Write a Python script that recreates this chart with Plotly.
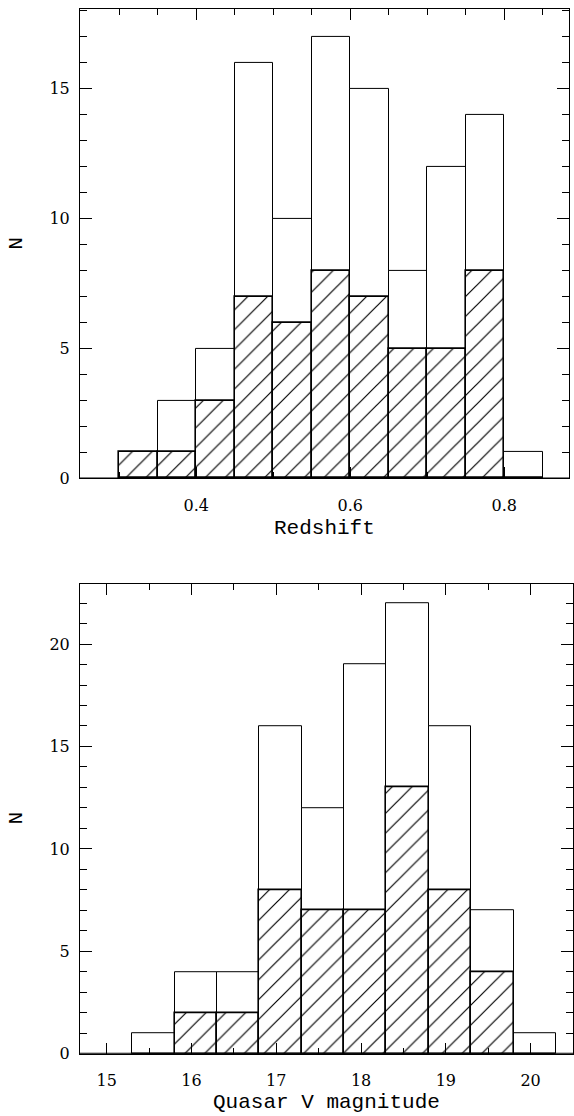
import plotly.graph_objects as go

W, H = 574, 1116

# Redshift histogram: lower bin edges, total counts and hatched sub-sample
z_edges = [0.30, 0.35, 0.40, 0.45, 0.50, 0.55, 0.60, 0.65, 0.70, 0.75, 0.80]
z_width = 0.05
z_total = [1, 3, 5, 16, 10, 17, 15, 8, 12, 14, 1]
z_sub = [1, 1, 3, 7, 6, 8, 7, 5, 5, 8, 0]

# Quasar V magnitude histogram
v_edges = [15.3, 15.8, 16.3, 16.8, 17.3, 17.8, 18.3, 18.8, 19.3, 19.8]
v_width = 0.5
v_total = [1, 4, 4, 16, 12, 19, 22, 16, 7, 1]
v_sub = [0, 2, 2, 8, 7, 7, 13, 8, 4, 0]

TICK_FONT = dict(family="DejaVu Serif", size=16, color="black")
TITLE_FONT = dict(family="Liberation Mono", size=21, color="black")


def px_x(p):
    return p / W


def px_y(p):
    return 1 - p / H


def hist_traces(edges, width, total, sub, xa, ya):
    centers = [e + width / 2 for e in edges]
    outline = go.Bar(
        x=centers, y=total, width=width, xaxis=xa, yaxis=ya,
        marker=dict(color="white", line=dict(color="black", width=1)),
        showlegend=False, hoverinfo="skip",
    )
    hatched = go.Bar(
        x=centers, y=sub, width=width, xaxis=xa, yaxis=ya,
        marker=dict(
            color="white",
            line=dict(color="black", width=1.6),
            pattern=dict(shape="/", size=14, solidity=0.085,
                         fgcolor="black", fgopacity=1,
                         bgcolor="white", fillmode="overlay"),
        ),
        showlegend=False, hoverinfo="skip",
    )
    return [outline, hatched]


def axis(rng, dtick, minor_dtick, major_len, minor_len, domain, anchor, standoff):
    return dict(
        range=rng, domain=domain, anchor=anchor,
        showgrid=False, zeroline=False,
        showline=True, linecolor="black", linewidth=1, mirror="allticks",
        ticks="inside", ticklen=major_len, tickwidth=1, tickcolor="black",
        tick0=0, dtick=dtick,
        minor=dict(ticks="inside", ticklen=minor_len, tickwidth=1,
                   tickcolor="black", tick0=0, dtick=minor_dtick, showgrid=False),
        tickfont=TICK_FONT, ticklabelstandoff=standoff,
    )


fig = go.Figure()
for t in hist_traces(z_edges, z_width, z_total, z_sub, "x", "y"):
    fig.add_trace(t)
for t in hist_traces(v_edges, v_width, v_total, v_sub, "x2", "y2"):
    fig.add_trace(t)

top_x = [px_x(80), px_x(569)]
top_y = [px_y(482.7), px_y(9)]
bot_x = [px_x(80), px_x(573)]
bot_y = [px_y(1063.3), px_y(589.5)]

fig.update_layout(
    width=W, height=H,
    margin=dict(l=0, r=0, t=0, b=0),
    paper_bgcolor="white", plot_bgcolor="white",
    barmode="overlay", bargap=0,
    xaxis=axis([0.249, 0.884], 0.2, 0.05, 11, 6, top_x, "y", 12),
    yaxis=axis([0, 18.08], 5, 1, 12, 7, top_y, "x", 6),
    xaxis2=axis([14.685, 20.5], 1, 0.5, 11, 6, bot_x, "y2", 12),
    yaxis2=axis([0, 22.92], 5, 1, 12, 7, bot_y, "x2", 6),
)

# heavier baseline along N = 0
for xr, yr in (("x domain", "y"), ("x2 domain", "y2")):
    fig.add_shape(type="line", xref=xr, yref=yr, x0=0, x1=1, y0=0, y1=0,
                  line=dict(color="black", width=2))

annotations = [
    dict(text="Redshift", x=px_x(324), y=px_y(533)),
    dict(text="Quasar V magnitude", x=px_x(326), y=px_y(1112)),
    dict(text="N", x=px_x(17), y=px_y(246), textangle=-90),
    dict(text="N", x=px_x(17), y=px_y(826), textangle=-90),
]
for a in annotations:
    fig.add_annotation(xref="paper", yref="paper", showarrow=False,
                       xanchor="center", yanchor="middle", font=TITLE_FONT, **a)

fig.write_html("out.html")
